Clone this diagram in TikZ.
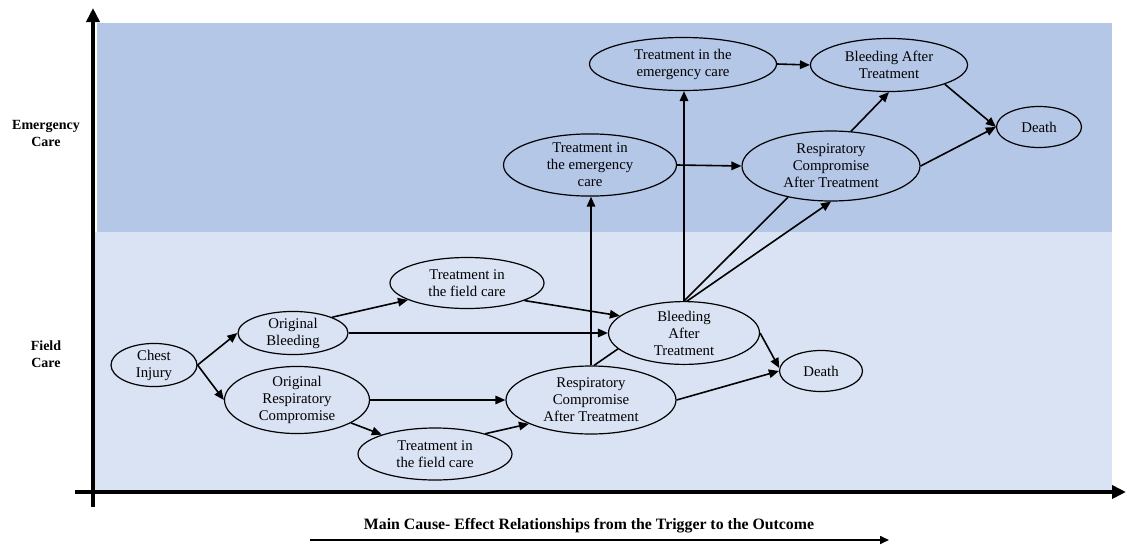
\documentclass[tikz,border=0pt]{standalone}
\usepackage{fontspec}
\setmainfont{Liberation Serif}
\usetikzlibrary{shapes.geometric,arrows.meta}
\definecolor{emband}{HTML}{B4C7E7}
\definecolor{fieldband}{HTML}{DAE3F3}
\begin{document}
\begin{tikzpicture}[x=1pt,y=-1pt,
  stage/.style={ellipse,draw,line width=1.2pt,inner sep=0pt,align=center,
    font=\fontsize{14.8}{17}\selectfont},
  fieldnode/.style={stage,fill=fieldband},
  emnode/.style={stage,fill=emband},
  link/.style={line width=1.6pt,-{Triangle[length=10pt,width=8.5pt]}},
  plainlink/.style={line width=1.6pt},
  axis/.style={line width=4pt,-{Triangle[length=14pt,width=13pt]}},
  bandlabel/.style={align=center,font=\fontsize{14}{17}\selectfont\bfseries}]
\useasboundingbox (0,0) rectangle (1127,544);

% care-level bands
\fill[fieldband] (95,232) rectangle (1112,490);
\fill[emband] (97,23) rectangle (1112,232);

% axes
\coordinate (ybot) at (93,507);
\coordinate (ytop) at (93,8);
\coordinate (xleft) at (75,492);
\coordinate (xright) at (1126,492);
\draw[axis] (ybot) -- (ytop);
\draw[axis] (xleft) -- (xright);

\node[bandlabel] (lem) at (46,133) {Emergency\\Care};
\node[bandlabel] (lfc) at (46,354) {Field\\Care};

% caption with direction arrow
\node[font=\fontsize{15.8}{18}\selectfont\bfseries] (cap) at (589,526)
  {Main Cause- Effect Relationships from the Trigger to the Outcome};
\coordinate (capl) at (310,540);
\coordinate (capr) at (889,540);
\draw[line width=1.6pt,-{Triangle[length=9pt,width=8pt]}] (capl) -- (capr);

% node centres
\coordinate (ci) at (154,365);
\coordinate (ob) at (293,333);
\coordinate (orc) at (297,400);
\coordinate (tfl) at (435,454);
\coordinate (tfu) at (467,283);
\coordinate (bf) at (684,333);
\coordinate (rf) at (591,400);
\coordinate (df) at (821,371);
\coordinate (tel) at (590,165);
\coordinate (teu) at (683,64);
\coordinate (be) at (889,65);
\coordinate (re) at (831,166);
\coordinate (de) at (1039,127);

% field care
\node[fieldnode,minimum width=86pt,minimum height=43pt] (nci) at (ci) {Chest\\Injury};
\node[fieldnode,minimum width=110pt,minimum height=41pt] (nob) at (ob) {Original\\Bleeding};
\node[fieldnode,minimum width=145pt,minimum height=62pt] (norc) at (orc) {Original\\Respiratory\\Compromise};
\node[fieldnode,minimum width=154pt,minimum height=52pt] (ntfl) at (tfl) {Treatment in\\the field care};
\node[fieldnode,minimum width=154pt,minimum height=51pt] (ntfu) at (tfu) {Treatment in\\the field care};
\node[fieldnode,minimum width=170pt,minimum height=68pt] (nrf) at (rf) {Respiratory\\Compromise\\After Treatment};
\node[fieldnode,minimum width=83pt,minimum height=41pt] (ndf) at (df) {Death};

% emergency care
\node[emnode,minimum width=173pt,minimum height=53pt] (ntel) at (tel) {Treatment in\\the emergency\\care};
\node[emnode,minimum width=187pt,minimum height=53pt] (nteu) at (teu) {Treatment in the\\emergency care};
\node[emnode,minimum width=157pt,minimum height=53pt] (nbe) at (be) {Bleeding After\\Treatment};
\node[emnode,minimum width=178pt,minimum height=70pt] (nre) at (re) {Respiratory\\Compromise\\After Treatment};
\node[emnode,minimum width=85pt,minimum height=41pt] (nde) at (de) {Death};

% this link runs behind the bleeding-after-treatment ellipse drawn next
\draw[link] (nrf.85) -- (nre.south);
\node[fieldnode,minimum width=151pt,minimum height=49pt] (nbf) at (bf) {Bleeding\\After\\Treatment};

\draw[link] (nci.east) -- (nob.west);
\draw[link] (nci.east) -- (norc.west);
\draw[link] (nob.22) -- (ntfu.196);
\draw[link] (nob.east) -- (nbf.west);
\draw[link] (ntfu.343) -- (nbf.165);
\draw[link] (norc.east) -- (nrf.west);
\draw[link] (norc.337) -- (ntfl.160);
\draw[link] (ntfl.22) -- (nrf.201);
\draw[link] (nrf.east) -- (ndf.west);
\draw[link] (nbf.east) -- (ndf.176);
\draw[plainlink] (nbf.north) -- (nre.216);
\draw[link] (nbf.north) -- (nbf.north |- nteu.south);
\draw[link] (nrf.north) -- (nrf.north |- ntel.south);
\draw[link] (ntel.east) -- (nre.west);
\draw[link] (nteu.east) -- (nbe.west);
\draw[link] (nre.60) -- (nbe.south);
\draw[link] (nbe.341) -- (nde.west);
\draw[link] (nre.east) -- (nde.west);
\end{tikzpicture}
\end{document}
